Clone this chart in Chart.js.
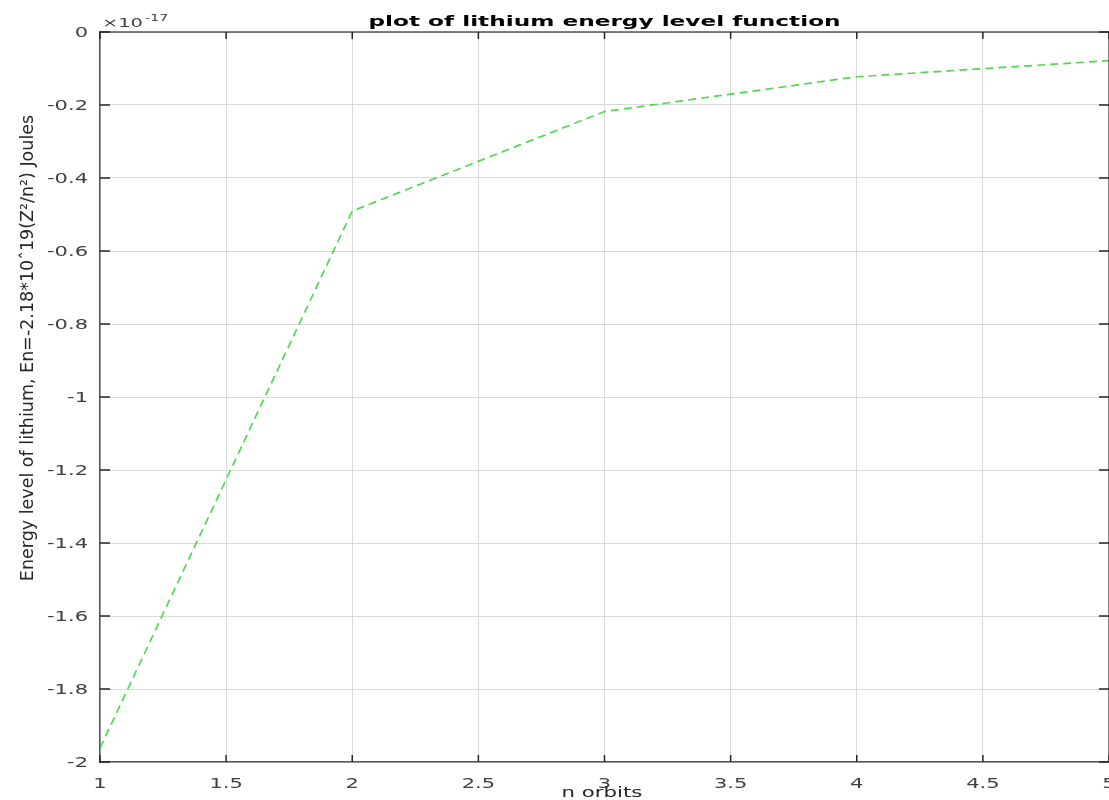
<!DOCTYPE html>
<html>
<head>
<meta charset="utf-8">
<script src="https://cdn.jsdelivr.net/npm/chart.js@4.4.1/dist/chart.umd.min.js"></script>
<style>
  body { margin: 0; background: #fff; }
  #wrap { width: 1109px; height: 800px; }
</style>
</head>
<body>
<div id="wrap"><canvas id="myChart"></canvas></div>
<script>
// energy levels in units of 10^-17 J
const orbits = [1, 2, 3, 4, 5];
const energy = [-1.962, -0.4905, -0.218, -0.1226, -0.0785];

const xTicks = [1, 1.5, 2, 2.5, 3, 3.5, 4, 4.5, 5];
const xTickLabels = ['1', '1.5', '2', '2.5', '3', '3.5', '4', '4.5', '5'];
const yTicks = [0, -0.2, -0.4, -0.6, -0.8, -1, -1.2, -1.4, -1.6, -1.8, -2];
const yTickLabels = ['0', '-0.2', '-0.4', '-0.6', '-0.8', '-1', '-1.2', '-1.4', '-1.6', '-1.8', '-2'];

const titleText = 'plot of lithium energy level function';
const xLabel = 'n orbits';
const yLabel = 'Energy level of lithium, En=-2.18*10ˆ19(Z²/n²) Joules';

// the reference is wider than tall in its lettering
function wideText(ctx, text, x, y, align, font, color, sx) {
  ctx.save();
  ctx.translate(x, y);
  ctx.scale(sx, 1);
  ctx.font = font;
  ctx.fillStyle = color;
  ctx.textAlign = align;
  ctx.textBaseline = 'alphabetic';
  ctx.fillText(text, 0, 0);
  ctx.restore();
}

const frame = {
  id: 'frame',
  afterDraw(chart) {
    const ctx = chart.ctx;
    const a = chart.chartArea;
    const x = chart.scales.x, y = chart.scales.y;

    ctx.save();
    ctx.strokeStyle = '#555';
    ctx.lineWidth = 1.5;
    ctx.beginPath();
    ctx.moveTo(a.left, a.top);
    ctx.lineTo(a.right, a.top);
    ctx.lineTo(a.right, a.bottom);
    ctx.stroke();

    ctx.strokeStyle = '#262626';
    ctx.beginPath();
    xTicks.forEach(v => {
      const px = x.getPixelForValue(v);
      ctx.moveTo(px, a.bottom); ctx.lineTo(px, a.bottom - 7);
      ctx.moveTo(px, a.top); ctx.lineTo(px, a.top + 7);
    });
    yTicks.forEach(v => {
      const py = y.getPixelForValue(v);
      ctx.moveTo(a.left, py); ctx.lineTo(a.left + 10, py);
      ctx.moveTo(a.right, py); ctx.lineTo(a.right - 10, py);
    });
    ctx.stroke();
    ctx.restore();

    const tickFont = '14px "DejaVu Sans"';
    xTicks.forEach((v, i) => {
      wideText(ctx, xTickLabels[i], x.getPixelForValue(v), a.bottom + 26, 'center', tickFont, '#404040', 1.5);
    });
    yTicks.forEach((v, i) => {
      wideText(ctx, yTickLabels[i], a.left - 12, y.getPixelForValue(v) + 5, 'right', tickFont, '#404040', 1.5);
    });

    wideText(ctx, titleText, (a.left + a.right) / 2, 26, 'center', 'bold 14.5px "DejaVu Sans"', '#000', 1.6);
    wideText(ctx, xLabel, 602, 797, 'center', '14px "DejaVu Sans"', '#262626', 1.52);
    wideText(ctx, '×10', a.left + 2, 27, 'left', '12.5px "DejaVu Sans"', '#404040', 1.55);
    wideText(ctx, '-17', a.left + 45, 21, 'left', '9.5px "DejaVu Sans"', '#404040', 1.5);

    ctx.save();
    ctx.translate(33, 348);
    ctx.rotate(-Math.PI / 2);
    ctx.font = '17.5px "DejaVu Sans"';
    ctx.fillStyle = '#262626';
    ctx.textAlign = 'center';
    ctx.textBaseline = 'alphabetic';
    ctx.fillText(yLabel, 0, 0);
    ctx.restore();
  }
};

const ctx = document.getElementById('myChart');

new Chart(ctx, {
  type: 'line',
  data: {
    datasets: [{
      data: orbits.map((n, i) => ({ x: n, y: energy[i] })),
      borderColor: 'rgba(40, 205, 40, 0.8)',
      borderWidth: 1.7,
      borderDash: [8, 5],
      pointRadius: 0,
      tension: 0,
      fill: false
    }]
  },
  options: {
    responsive: true,
    maintainAspectRatio: false,
    animation: false,
    layout: { padding: { top: 32, left: 0, right: 0, bottom: 0 } },
    plugins: {
      legend: { display: false },
      tooltip: { enabled: false }
    },
    scales: {
      x: {
        type: 'linear',
        min: 1,
        max: 5,
        afterBuildTicks: s => { s.ticks = xTicks.map(v => ({ value: v })); },
        afterFit: s => { s.height = 38; s.paddingLeft = 0; s.paddingRight = 0; },
        ticks: { display: false },
        grid: { color: '#dadada', lineWidth: 1, drawTicks: false },
        border: { color: '#555', width: 1.5 }
      },
      y: {
        min: -2,
        max: 0,
        afterBuildTicks: s => { s.ticks = yTicks.map(v => ({ value: v })); },
        afterFit: s => { s.width = 100; s.paddingTop = 0; s.paddingBottom = 0; },
        ticks: { display: false },
        grid: { color: '#dadada', lineWidth: 1, drawTicks: false },
        border: { color: '#555', width: 1.5 }
      }
    }
  },
  plugins: [frame]
});
</script>
</body>
</html>
